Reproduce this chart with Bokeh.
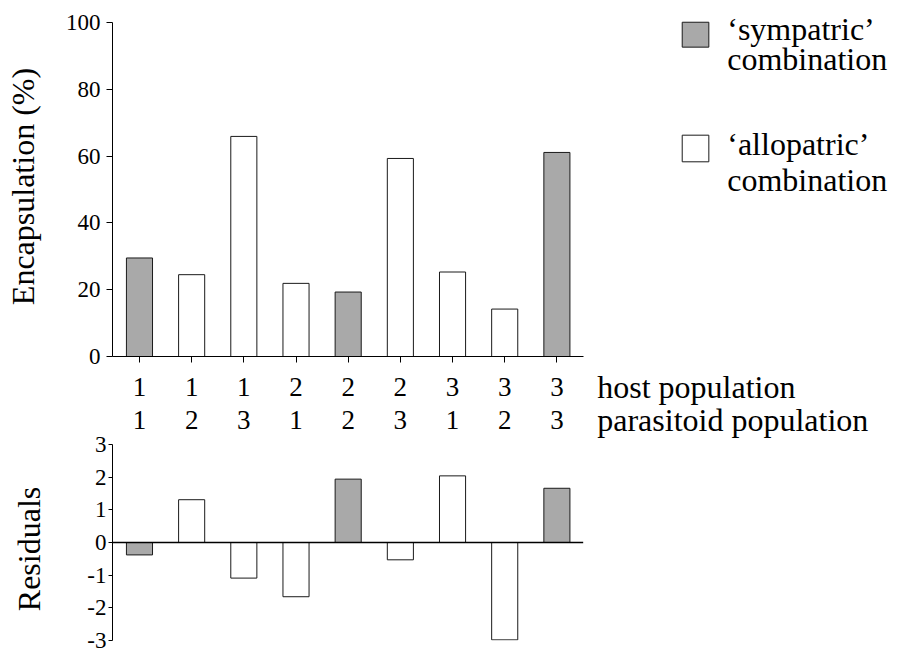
from bokeh.plotting import figure
from bokeh.models import Range1d, FixedTicker, Label, ColumnDataSource
from bokeh.core.properties import value
from bokeh.layouts import column
from bokeh.embed import file_html
from bokeh.resources import INLINE

# ---------------- data ----------------
host_population = ["1", "1", "1", "2", "2", "2", "3", "3", "3"]
parasitoid_population = ["1", "2", "3", "1", "2", "3", "1", "2", "3"]
encapsulation = [29.5, 24.5, 65.9, 21.9, 19.3, 59.3, 25.3, 14.2, 61.1]
residuals = [-0.38, 1.31, -1.09, -1.66, 1.94, -0.53, 2.04, -2.98, 1.66]
enc_ticks = [0, 20, 40, 60, 80, 100]
res_ticks = [-3, -2, -1, 0, 1, 2, 3]
row_titles = ["host population", "parasitoid population"]
legend_names = [["\u2018sympatric\u2019", "combination"], ["\u2018allopatric\u2019", "combination"]]
y_titles = ["Encapsulation (%)", "Residuals"]

# ---------------- style / layout ----------------
FONT = "Liberation Serif"
GRAY = "#a9a9a9"
EDGE = "#1a1a1a"
BIG = "32px"
DIGITS = "27px"
TICKS = "23px"
W = 897
LEFT = 112
NBSP = "\u00a0"                # trailing no-break spaces slide a centred axis title along its axis

X_RANGE = (0.483, 15.528)      # shared horizontal scale of both panels
AXIS_X = (0.38, 9.504)         # extent of the drawn x axis / zero line
TOP_Y_RANGE = (0, 106.6)       # headroom above 100 holds the legend
RES_Y_RANGE = (-3, 5.296)      # headroom above 3 holds the population rows

ROW_Y = [4.745, 3.765]         # residual-panel units
ROW_TITLE_X = 9.773
LEG_BOX_X = (11.402, 11.912)
LEG_BOX_Y = [(92.63, 100.09), (58.3, 66.27)]
LEG_TEXT_X = 12.265
LEG_TEXT_Y = [[98.21, 88.96], [63.58, 52.84]]

positions = list(range(1, len(encapsulation) + 1))
sympatric = [h == q for h, q in zip(host_population, parasitoid_population)]
fills = [GRAY if s else "white" for s in sympatric]
src = ColumnDataSource(dict(x=positions, enc=encapsulation, res=residuals, fill=fills))


def style_y(ax, ticks, tick_out, standoff, label, label_standoff):
    ax.ticker = FixedTicker(ticks=ticks)
    ax.bounds = (min(ticks), max(ticks))
    ax.major_label_overrides = {t: str(t) for t in ticks}
    ax.major_tick_out = tick_out
    ax.major_tick_in = 0
    ax.minor_tick_line_color = None
    ax.major_label_standoff = standoff
    ax.major_label_text_font = FONT
    ax.major_label_text_font_size = TICKS
    ax.major_label_text_color = "black"
    ax.axis_line_color = "black"
    ax.major_tick_line_color = "black"
    ax.axis_label = label
    ax.axis_label_text_font = FONT
    ax.axis_label_text_font_size = BIG
    ax.axis_label_text_font_style = "normal"
    ax.axis_label_text_color = "black"
    ax.axis_label_standoff = label_standoff


def bare(p):
    p.grid.visible = False
    p.outline_line_color = None


# ---------------- top panel ----------------
p1 = figure(width=W, height=369, output_backend="svg", toolbar_location=None,
            x_range=Range1d(*X_RANGE), y_range=Range1d(*TOP_Y_RANGE),
            min_border_left=LEFT, min_border_right=0, min_border_top=0, min_border_bottom=13)
bare(p1)
p1.vbar(x="x", top="enc", bottom=0, width=0.5, source=src,
        fill_color="fill", line_color=EDGE, line_width=1)
style_y(p1.yaxis[0], enc_ticks, 6, 6, y_titles[0] + NBSP * 2, 22)

xa = p1.xaxis[0]
xa.ticker = FixedTicker(ticks=positions)
xa.bounds = AXIS_X
xa.major_label_overrides = {p: "" for p in positions}
xa.major_label_text_font_size = "0px"
xa.major_label_standoff = 0
xa.major_tick_out = 6
xa.major_tick_in = 0
xa.minor_tick_line_color = None
xa.axis_line_color = "black"
xa.major_tick_line_color = "black"

# legend: swatches + two-line labels
sw = ColumnDataSource(dict(left=[LEG_BOX_X[0]] * 2, right=[LEG_BOX_X[1]] * 2,
                           bottom=[b for b, t in LEG_BOX_Y], top=[t for b, t in LEG_BOX_Y],
                           fill=[GRAY, "white"]))
p1.quad(left="left", right="right", top="top", bottom="bottom", source=sw,
        fill_color="fill", line_color=EDGE, line_width=1)
for lines, ys in zip(legend_names, LEG_TEXT_Y):
    for txt, yv in zip(lines, ys):
        p1.add_layout(Label(x=LEG_TEXT_X, y=yv, text=txt, text_font=FONT, text_font_size=BIG,
                            text_baseline="alphabetic", text_align="left", text_color="black"))

# ---------------- residual panel (its headroom carries the population rows) ----------------
p2 = figure(width=W, height=285, output_backend="svg", toolbar_location=None,
            x_range=Range1d(*X_RANGE), y_range=Range1d(*RES_Y_RANGE), x_axis_location=None,
            min_border_left=LEFT, min_border_right=0, min_border_top=0, min_border_bottom=14)
bare(p2)
p2.vbar(x="x", top="res", bottom=0, width=0.5, source=src,
        fill_color="fill", line_color=EDGE, line_width=1)
p2.segment(x0=AXIS_X[0], y0=0, x1=AXIS_X[1], y1=0, line_color="black", line_width=1.5)
style_y(p2.yaxis[0], res_ticks, 4, 2, y_titles[1] + NBSP * 11, 37)

rows = ColumnDataSource(dict(
    x=positions + positions,
    y=[ROW_Y[0]] * len(positions) + [ROW_Y[1]] * len(positions),
    t=host_population + parasitoid_population))
p2.text(x="x", y="y", text="t", source=rows, text_font=value(FONT), text_font_size=DIGITS,
        text_align="center", text_baseline="alphabetic", text_color="black")
for title, yv in zip(row_titles, ROW_Y):
    p2.add_layout(Label(x=ROW_TITLE_X, y=yv, text=title, text_font=FONT, text_font_size=BIG,
                        text_baseline="alphabetic", text_align="left", text_color="black"))

layout = column(p1, p2, spacing=0)
open("out.html", "w").write(file_html(layout, INLINE))
